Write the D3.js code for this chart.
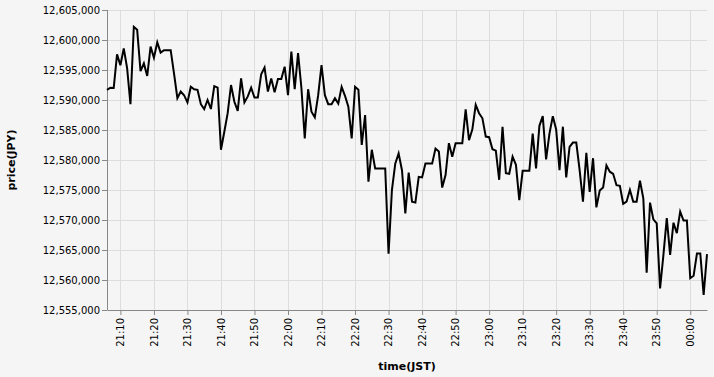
<!DOCTYPE html>
<html>
<head>
<meta charset="utf-8">
<script src="https://cdn.jsdelivr.net/npm/d3@7"></script>
<style>
  body { margin: 0; background: #f5f5f5; }
  svg { display: block; }
</style>
</head>
<body>
<div id="chart"></div>
<script>
// one point per minute, 21:06 -> 00:05 (JST)
var startTime = "2021-01-01T21:06:00";
var prices = [
  12591700, 12592050, 12592000, 12597600, 12595800, 12598600, 12595300, 12589300, 12602200, 12601700,
  12594800, 12596100, 12594000, 12598900, 12597050, 12599600, 12597900, 12598300, 12598300, 12598300,
  12594400, 12590300, 12591400, 12590800, 12589600, 12592200, 12591800, 12591700, 12589300, 12588500,
  12590000, 12588500, 12592300, 12592050, 12581700, 12584700, 12587800, 12592500, 12589700, 12588200,
  12593600, 12589600, 12590600, 12592050, 12590400, 12590400, 12594300, 12595400, 12591400, 12593600,
  12591300, 12593500, 12593500, 12595550, 12590800, 12598050, 12591800, 12597800, 12592000, 12583600,
  12591800, 12588050, 12587100, 12590800, 12595800, 12590800, 12589300, 12589300, 12590300, 12589400,
  12592200, 12590700, 12588900, 12583600, 12592200, 12591700, 12582500, 12587500, 12576400, 12581700,
  12578600, 12578600, 12578600, 12578600, 12564400, 12575000, 12579400, 12581100, 12578300, 12571100,
  12577900, 12573050, 12572900, 12577200, 12577100, 12579400, 12579400, 12579400, 12581900, 12581400,
  12575400, 12577500, 12582800, 12580550, 12582800, 12582800, 12582800, 12588450, 12583300, 12585100,
  12589200, 12587800, 12586950, 12583900, 12583800, 12581800, 12581550, 12576700, 12585550, 12577800,
  12577700, 12580550, 12579200, 12573300, 12578200, 12578200, 12578200, 12584400, 12578600, 12585700,
  12587300, 12580100, 12584400, 12587300, 12585100, 12578300, 12585550, 12577100, 12582200, 12582900,
  12582900, 12578300, 12573050, 12581200, 12574700, 12580300, 12572100, 12574900, 12575400, 12579100,
  12578050, 12577700, 12575800, 12575700, 12572700, 12573050, 12575000, 12573050, 12573050, 12576550,
  12573600, 12561200, 12572900, 12570100, 12569450, 12558600, 12564200, 12570300, 12564200, 12569550,
  12567800, 12571400, 12569900, 12569900, 12560300, 12560700, 12564400, 12564400, 12557500, 12564300
];
var yTicks = [12555000, 12560000, 12565000, 12570000, 12575000, 12580000,
              12585000, 12590000, 12595000, 12600000, 12605000];
var xTickLabels = ["21:10", "21:20", "21:30", "21:40", "21:50", "22:00", "22:10", "22:20", "22:30",
                   "22:40", "22:50", "23:00", "23:10", "23:20", "23:30", "23:40", "23:50", "00:00"];

var t0 = new Date(startTime);
var data = prices.map(function(p, i) {
  return { time: new Date(t0.getTime() + i * 60000), price: p };
});

var margin = {top: 10, right: 7, bottom: 67, left: 107},
    width = 714 - margin.left - margin.right,
    height = 377 - margin.top - margin.bottom;

var svg = d3.select("#chart").append("svg")
    .attr("width", 714)
    .attr("height", 377)
    .style("font-family", "DejaVu Sans, sans-serif");

svg.append("rect")
    .attr("width", 714)
    .attr("height", 377)
    .attr("fill", "#f5f5f5");

var g = svg.append("g")
    .attr("transform", "translate(" + margin.left + "," + margin.top + ")");

var x = d3.scaleTime()
    .domain(d3.extent(data, function(d) { return d.time; }))
    .range([0, width]);

var y = d3.scaleLinear()
    .domain([yTicks[0], yTicks[yTicks.length - 1]])
    .range([height, 0]);

// tick dates built from the labels (hours after midnight roll to next day)
var xTicks = xTickLabels.map(function(s) {
  var hm = s.split(":").map(Number);
  var d = new Date(t0);
  d.setHours(hm[0], hm[1], 0, 0);
  if (hm[0] < 12) d.setDate(d.getDate() + 1);
  return d;
});

// grid
g.append("g").selectAll("line.hgrid")
    .data(yTicks).enter().append("line")
    .attr("x1", 0).attr("x2", width)
    .attr("y1", function(d) { return y(d) + 0.5; })
    .attr("y2", function(d) { return y(d) + 0.5; })
    .attr("stroke", "#ddd");

g.append("g").selectAll("line.vgrid")
    .data(xTicks).enter().append("line")
    .attr("x1", function(d) { return Math.round(x(d)) + 0.5; })
    .attr("x2", function(d) { return Math.round(x(d)) + 0.5; })
    .attr("y1", 0).attr("y2", height)
    .attr("stroke", "#ddd");

// axes
var yAxis = g.append("g")
    .call(d3.axisLeft(y).tickValues(yTicks).tickSize(5).tickPadding(2).tickFormat(d3.format(",")));

var xAxis = g.append("g")
    .attr("transform", "translate(0," + height + ")")
    .call(d3.axisBottom(x).tickValues(xTicks).tickSize(5).tickSizeOuter(0)
      .tickFormat(function(d, i) { return xTickLabels[i]; }));

xAxis.selectAll("text")
    .attr("transform", "rotate(-90)")
    .attr("x", -8)
    .attr("y", 0)
    .attr("dy", "0.32em")
    .style("text-anchor", "end");

[xAxis, yAxis].forEach(function(a) {
  a.select(".domain").attr("stroke", "#888");
  a.selectAll(".tick line").attr("stroke", "#888");
  a.selectAll("text").attr("fill", "#000").attr("font-size", "10px")
      .attr("font-family", "DejaVu Sans, sans-serif");
});
yAxis.select(".domain").attr("d", "M0.5," + height + "V0");

// line
var line = d3.line()
    .x(function(d) { return x(d.time); })
    .y(function(d) { return y(d.price); });

g.append("path")
    .datum(data)
    .attr("fill", "none")
    .attr("stroke", "#000")
    .attr("stroke-width", 2)
    .attr("stroke-linejoin", "miter")
    .attr("d", line);

// titles
svg.append("text")
    .attr("x", margin.left + width / 2)
    .attr("y", 370)
    .attr("text-anchor", "middle")
    .attr("font-size", "11px")
    .attr("font-weight", "bold")
    .text("time(JST)");

svg.append("text")
    .attr("transform", "translate(15," + (margin.top + height / 2) + ") rotate(-90)")
    .attr("text-anchor", "middle")
    .attr("font-size", "11px")
    .attr("font-weight", "bold")
    .text("price(JPY)");
</script>
</body>
</html>
